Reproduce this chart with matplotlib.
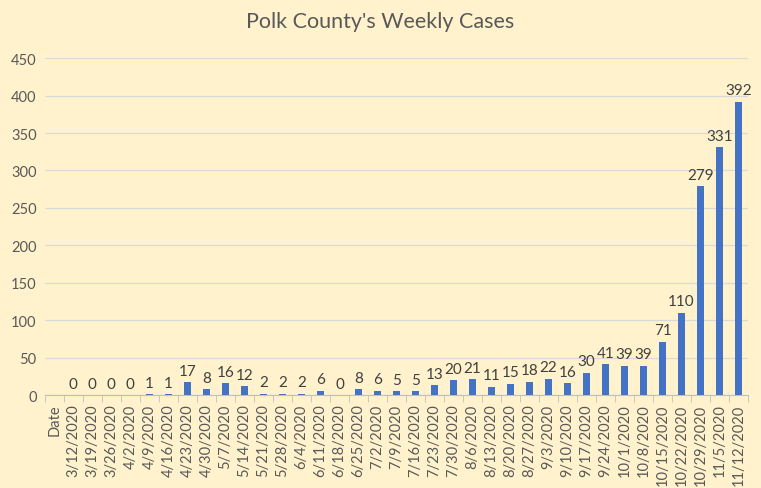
import numpy as np
import matplotlib.pyplot as plt

plt.rcParams['font.family'] = ['Lato', 'DejaVu Sans']

dates = ['3/12/2020', '3/19/2020', '3/26/2020', '4/2/2020', '4/9/2020', '4/16/2020',
         '4/23/2020', '4/30/2020', '5/7/2020', '5/14/2020', '5/21/2020', '5/28/2020',
         '6/4/2020', '6/11/2020', '6/18/2020', '6/25/2020', '7/2/2020', '7/9/2020',
         '7/16/2020', '7/23/2020', '7/30/2020', '8/6/2020', '8/13/2020', '8/20/2020',
         '8/27/2020', '9/3/2020', '9/10/2020', '9/17/2020', '9/24/2020', '10/1/2020',
         '10/8/2020', '10/15/2020', '10/22/2020', '10/29/2020', '11/5/2020', '11/12/2020']
cases = [0, 0, 0, 0, 1, 1, 17, 8, 16, 12, 2, 2, 2, 6, 0, 8, 6, 5, 5, 13, 20, 21,
         11, 15, 18, 22, 16, 30, 41, 39, 39, 71, 110, 279, 331, 392]
labels = ['Date'] + dates

bg = '#FFF2CC'
txt = '#595959'

fig = plt.figure(figsize=(7.61, 4.89), dpi=100, facecolor=bg)
ax = fig.add_axes([0.059, 0.19, 0.924, 0.689], facecolor=bg)

x = np.arange(1, len(labels))
bars = ax.bar(x, cases, width=0.35, color='#4472C4', zorder=3)
for xi, v in zip(x, cases):
    ax.text(xi, v + 6, str(v), ha='center', va='bottom', fontsize=11, color='#404040')

ax.set_xlim(-0.5, len(labels) - 0.5)
ax.set_ylim(0, 450)
ax.set_yticks(np.arange(0, 451, 50))
ax.yaxis.grid(True, color='#D9D9D9', linewidth=0.9, zorder=0)
ax.tick_params(axis='y', length=0, labelsize=10.5, labelcolor=txt, pad=6)

ax.set_xticks(np.arange(len(labels)))
ax.set_xticklabels(labels, rotation=90, fontsize=10.5, color=txt)
ax.set_xticks(np.arange(-0.5, len(labels)), minor=True)
ax.tick_params(axis='x', which='major', length=0, pad=6)
ax.tick_params(axis='x', which='minor', length=5, color='#BFBFBF')

for s in ['top', 'right', 'left']:
    ax.spines[s].set_visible(False)
ax.spines['bottom'].set_color('#BFBFBF')

fig.text(0.5, 0.955, "Polk County's Weekly Cases", ha='center', va='center',
         fontsize=15.5, color=txt)

fig.savefig('out.png', dpi=100, facecolor=bg)
